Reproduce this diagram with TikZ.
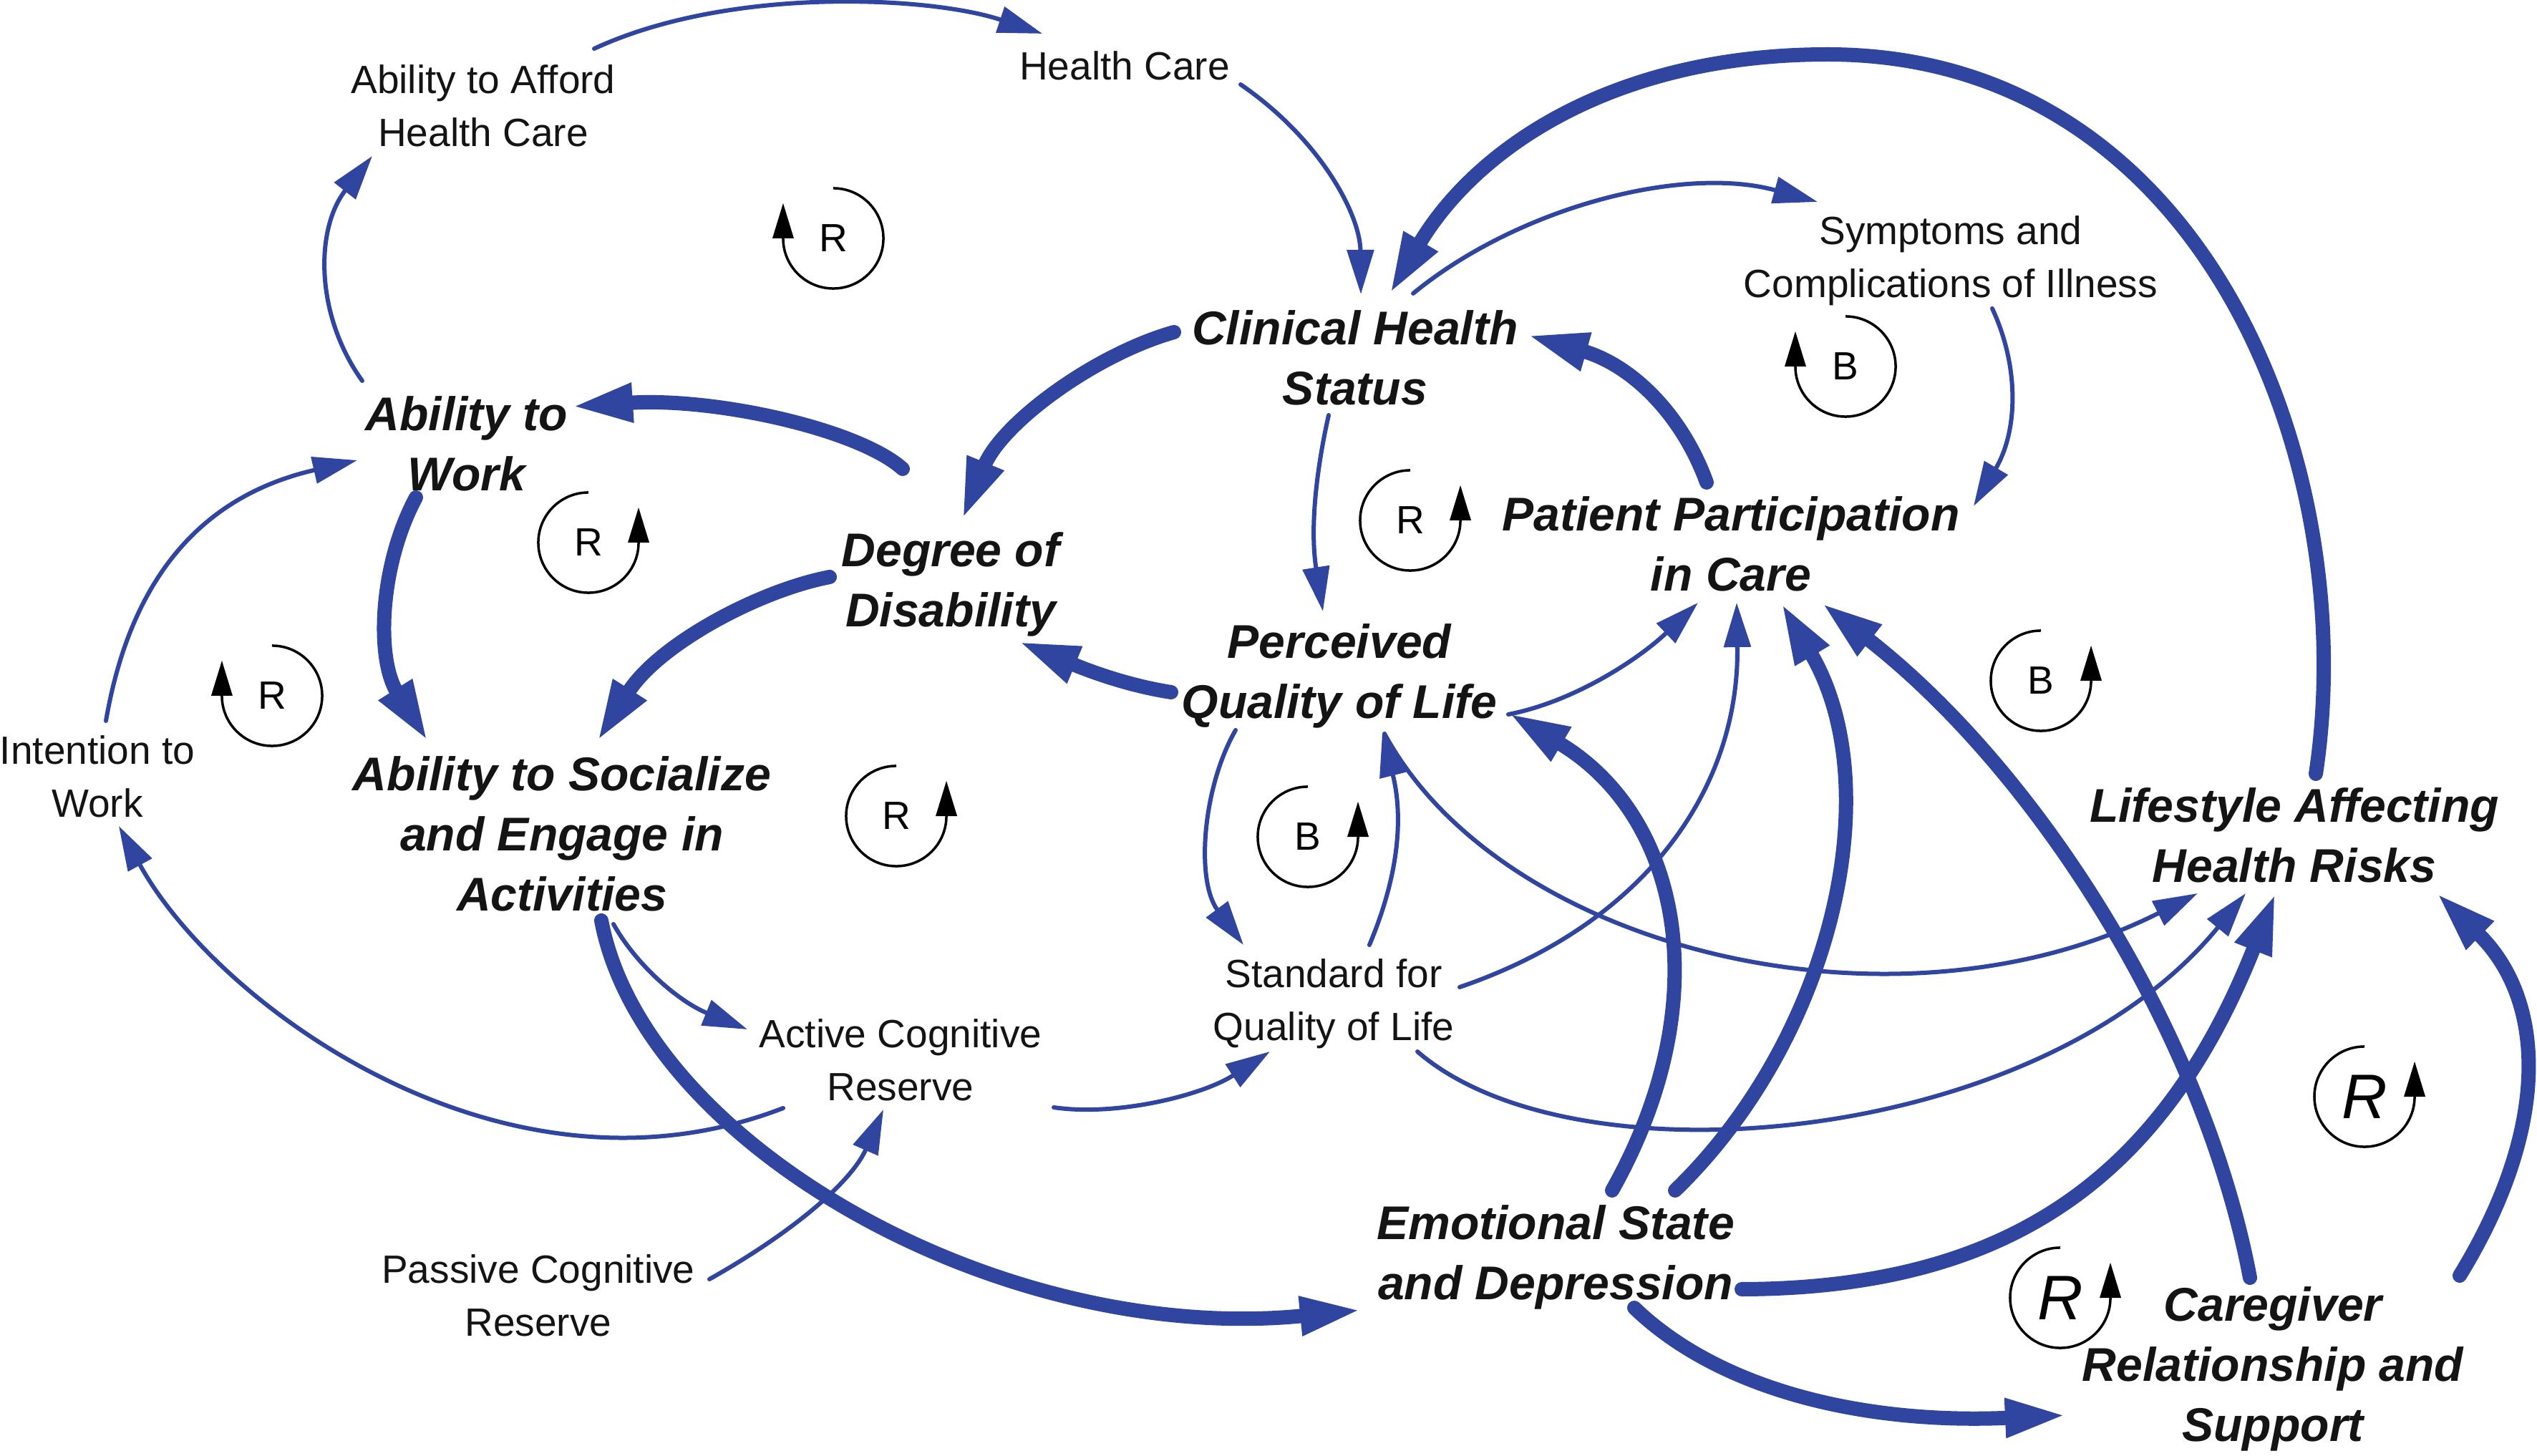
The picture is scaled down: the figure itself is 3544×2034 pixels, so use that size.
\documentclass[tikz,border=0pt]{standalone}
\usepackage{fontspec}
\setmainfont{Liberation Sans}
\usetikzlibrary{arrows.meta,calc}
\definecolor{cld}{RGB}{47,69,160}
\tikzset{
  lbl/.style={font=\fontsize{15.65}{21}\selectfont, align=center, inner sep=0pt, text=black!92},
  klbl/.style={font=\fontsize{18.8}{23.9}\selectfont\bfseries\itshape, align=center, inner sep=0pt, text=black!92},
  cthin/.style={draw=cld, line width=0.06cm, line cap=round, -{Triangle[length=0.62cm,width=0.37cm]}},
  cthick/.style={draw=cld, line width=0.2cm, line cap=round, -{Triangle[length=0.86cm,width=0.5cm]}},
  loopline/.style={draw=black, line width=0.035cm},
  looplab/.style={font=\fontsize{15.65}{19}\selectfont, inner sep=0pt},
  loopcw/.pic={
    \draw[loopline] (0cm,0.7cm) arc[start angle=90,end angle=-180,radius=0.7cm];
    \fill[black] (-0.85cm,0cm) -- (-0.55cm,0cm) -- (-0.7cm,0.49cm) -- cycle;
    \node[looplab] (-t) at (0cm,0cm) {#1};
  },
  loopccw/.pic={
    \draw[loopline] (0cm,0.7cm) arc[start angle=90,end angle=360,radius=0.7cm];
    \fill[black] (0.55cm,0cm) -- (0.85cm,0cm) -- (0.7cm,0.49cm) -- cycle;
    \node[looplab] (-t) at (0cm,0cm) {#1};
  },
}
\newcommand{\bigR}{{\fontsize{25}{30}\selectfont\itshape R}}
\begin{document}
\begin{tikzpicture}[x=0.01cm,y=-0.01cm]
\useasboundingbox (0,0) rectangle (3544,2034);
\fill[white] (0,0) rectangle (3544,2034);

% nodes
\node[lbl]  (afford) at (675,148)  {Ability to Afford\\Health Care};
\node[lbl]  (hc)     at (1571,92)  {Health Care};
\node[klbl] (chs)    at (1893,500) {Clinical Health\\Status};
\node[lbl]  (symp)   at (2725,364) {Symptoms and\\Complications of Illness};
\node[klbl] (atw)    at (652,620)  {Ability to\\Work};
\node[klbl] (dod)    at (1328,816) {Degree of\\Disability};
\node[klbl] (pqol)   at (1871,944) {Perceived\\Quality of Life};
\node[klbl] (ppc)    at (2418,760) {Patient Participation\\in Care};
\node[klbl] (socl)   at (785,1165) {Ability to Socialize\\and Engage in\\Activities};
\node[lbl]  (itw)    at (136,1085) {Intention to\\Work};
\node[lbl]  (acr)    at (1258,1481) {Active Cognitive\\Reserve};
\node[lbl]  (pcr)    at (752,1810) {Passive Cognitive\\Reserve};
\node[lbl]  (sqol)   at (1863,1402) {Standard for\\Quality of Life};
\node[klbl] (emo)    at (2173,1756) {Emotional State\\and Depression};
\node[klbl] (life)   at (3205,1167) {Lifestyle Affecting\\Health Risks};
\node[klbl] (care)   at (3175,1912) {Caregiver\\Relationship and\\Support};

% loops
\pic (l1)  at (1164,333)  {loopcw=R};
\pic (l2)  at (822,758)   {loopccw=R};
\pic (l3)  at (380,972)   {loopcw=R};
\pic (l4)  at (1252,1140) {loopccw=R};
\pic (l5)  at (1827,1169) {loopccw=B};
\pic (l6)  at (1970,727)  {loopccw=R};
\pic (l7)  at (2578,512)  {loopcw=B};
\pic (l8)  at (2851,951)  {loopccw=B};
\pic (l9)  at (3303,1532) {loopccw=\bigR};
\pic (l10) at (2878,1813) {loopccw=\bigR};

% connectors
\draw[cthin] ($(afford)+(155,-80)$) .. controls (1020,-20) and (1300,-5) .. ($(hc)+(-115,-45)$);
\draw[cthin] ($(hc)+(162,26)$) .. controls (1845,195) and (1900,300) .. ($(chs)+(8,-89)$);
\draw[cthin] ($(chs)+(81,-90)$) .. controls (2120,290) and (2350,230) .. ($(symp)+(-186,-82)$);
\draw[cthick] ($(life)+(30,-86)$) .. controls (3300,650) and (3080,76) .. (2553,76) .. controls (2250,76) and (2060,210) .. ($(chs)+(48,-89)$);
\draw[cthick] ($(chs)+(-253,-36)$) .. controls (1530,495) and (1400,590) .. ($(dod)+(16,-90)$);
\draw[cthin] ($(chs)+(-37,80)$) .. controls (1838,660) and (1830,740) .. ($(pqol)+(-23,-90)$);
\draw[cthick] ($(ppc)+(-34,-86)$) .. controls (2350,580) and (2280,510) .. ($(chs)+(240,-32)$);
\draw[cthin] ($(symp)+(58,67)$) .. controls (2820,510) and (2820,600) .. ($(ppc)+(339,-53)$);
\draw[cthick] ($(dod)+(-67,-161)$) .. controls (1200,600) and (1000,555) .. ($(atw)+(146,-52)$);
\draw[cthin] ($(atw)+(-146,-88)$) .. controls (440,440) and (440,320) .. ($(afford)+(-155,70)$);
\draw[cthick] ($(atw)+(-71,75)$) .. controls (530,790) and (525,920) .. ($(socl)+(-187,-129)$);
\draw[cthick] ($(dod)+(-169,-10)$) .. controls (1060,825) and (920,900) .. ($(socl)+(49,-129)$);
\draw[cthick] ($(pqol)+(-235,23)$) .. controls (1590,960) and (1540,945) .. ($(dod)+(94,80)$);
\draw[cthin] ($(itw)+(12,-78)$) .. controls (175,850) and (250,700) .. ($(atw)+(-153,23)$);
\draw[cthin] ($(acr)+(-164,67)$) .. controls (700,1700) and (300,1400) .. ($(itw)+(30,69)$);
\draw[cthin] ($(socl)+(72,126)$) .. controls (890,1350) and (950,1400) .. ($(acr)+(-214,-43)$);
\draw[cthick] ($(socl)+(55,121)$) .. controls (900,1600) and (1400,1880) .. ($(emo)+(-271,74)$);
\draw[cthin] ($(pcr)+(239,-23)$) .. controls (1110,1720) and (1190,1650) .. ($(acr)+(-24,69)$);
\draw[cthin] ($(acr)+(214,66)$) .. controls (1560,1560) and (1680,1530) .. ($(sqol)+(-89,67)$);
\draw[cthin] ($(pqol)+(-145,76)$) .. controls (1680,1100) and (1670,1230) .. ($(sqol)+(-126,-82)$);
\draw[cthin] ($(sqol)+(50,-82)$) .. controls (1955,1220) and (1960,1140) .. ($(pqol)+(60,79)$);
\draw[cthin] ($(pqol)+(236,54)$) .. controls (2200,980) and (2290,920) .. ($(ppc)+(-46,82)$);
\draw[cthin] ($(sqol)+(176,-23)$) .. controls (2300,1290) and (2430,1100) .. ($(ppc)+(8,82)$);
\draw[cthin] ($(pqol)+(63,81)$) .. controls (2100,1330) and (2650,1460) .. ($(life)+(-135,81)$);
\draw[cthin] ($(sqol)+(117,67)$) .. controls (2200,1660) and (2850,1600) .. ($(life)+(-68,81)$);
\draw[cthick] ($(emo)+(79,-93)$) .. controls (2400,1400) and (2350,1140) .. ($(pqol)+(236,52)$);
\draw[cthick] ($(emo)+(167,-93)$) .. controls (2560,1450) and (2640,1100) .. ($(ppc)+(70,82)$);
\draw[cthick] ($(care)+(-32,-127)$) .. controls (3080,1450) and (2850,1080) .. ($(ppc)+(126,82)$);
\draw[cthick] ($(emo)+(260,45)$) .. controls (2800,1800) and (3020,1650) .. ($(life)+(-26,80)$);
\draw[cthick] ($(emo)+(110,71)$) .. controls (2400,1940) and (2600,1990) .. ($(care)+(-288,65)$);
\draw[cthick] ($(care)+(261,-130)$) .. controls (3560,1580) and (3560,1400) .. ($(life)+(198,80)$);
\end{tikzpicture}
\end{document}
